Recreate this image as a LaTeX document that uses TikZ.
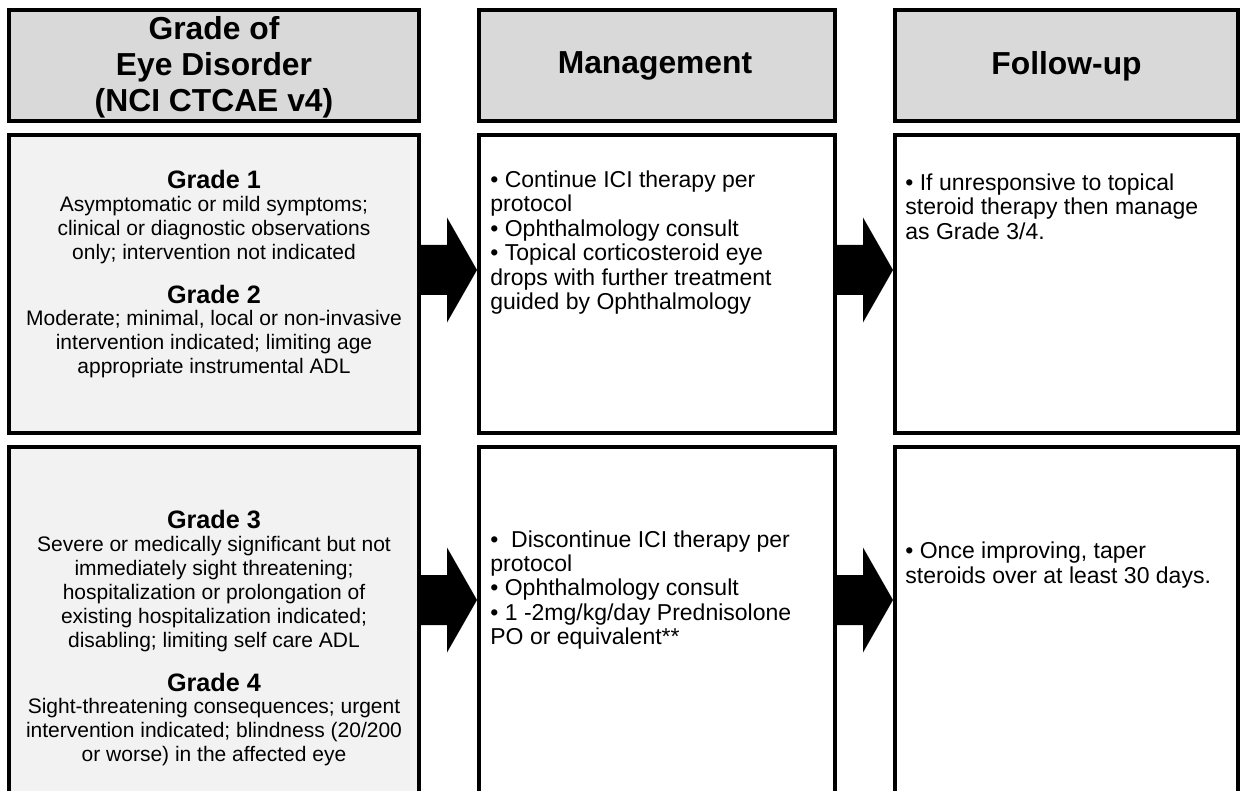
\documentclass[tikz,border=0pt]{standalone}
\usepackage{fontspec}
\setmainfont{Liberation Sans}
\usetikzlibrary{calc}
\definecolor{headgray}{HTML}{D9D9D9}
\definecolor{gradegray}{HTML}{F2F2F2}
% fat block arrow from the east side of #1 to the west side of #2, at the level of coordinate #3
\newcommand{\blockarrow}[3]{%
  \fill[black] ($(#1.east |- #3)+(0,-25)$) -- ($(#2.west |- #3)+(-30,-25)$) -- ++(0,-27.5)
    -- (#2.west |- #3) -- ++(-30,52.5) -- ++(0,-27.5) -- ($(#1.east |- #3)+(0,25)$) -- cycle;}
\begin{document}
\begin{tikzpicture}[x=0.5pt,y=-0.5pt,
  box/.style={draw=black, line width=2pt, inner sep=0pt},
  hdr/.style={font=\fontsize{15.9}{18}\selectfont\bfseries, align=center, inner sep=0pt},
  ghead/.style={font=\fontsize{12.6}{15}\selectfont\bfseries, inner sep=0pt},
  gtext/.style={font=\fontsize{10.5}{12}\selectfont, align=center, inner sep=0pt},
  mtext/.style={font=\fontsize{11.5}{12.2}\selectfont, align=left, inner sep=0pt, anchor=west}]
\useasboundingbox (0,0) rectangle (1242,791);
\clip (0,0) rectangle (1242,791);

% column headers
\node[box, fill=headgray, minimum width=205pt, minimum height=55.5pt] (hgrade) at (214,65.5) {};
\node[box, fill=headgray, minimum width=178pt, minimum height=55.5pt] (hmgmt) at (657,65.5) {};
\node[box, fill=headgray, minimum width=171.5pt, minimum height=55.5pt] (hfollow) at (1066.5,65.5) {};
\node[hdr] (thgrade) at (214,67) {Grade of\\Eye Disorder\\(NCI CTCAE v4)};
\node[hdr] (thmgmt) at (655,66) {Management};
\node[hdr] (thfollow) at (1066.5,66) {Follow-up};

% row for grades 1-2
\node[box, fill=gradegray, minimum width=205pt, minimum height=149pt] (g12) at (214,284) {};
\node[box, fill=white, minimum width=178pt, minimum height=149pt] (m12) at (657,284) {};
\node[box, fill=white, minimum width=171.5pt, minimum height=149pt] (f12) at (1066.5,284) {};

% row for grades 3-4
\node[box, fill=gradegray, minimum width=205pt, minimum height=186.5pt] (g34) at (214,633.5) {};
\node[box, fill=white, minimum width=178pt, minimum height=186.5pt] (m34) at (657,633.5) {};
\node[box, fill=white, minimum width=171.5pt, minimum height=186.5pt] (f34) at (1066.5,633.5) {};

% grade descriptions
\node[ghead] (gr1) at (214,179) {Grade 1};
\node[gtext] (gr1t) at (214,230.5) {Asymptomatic or mild symptoms;\\clinical or diagnostic observations\\only; intervention not indicated};
\node[ghead] (gr2) at (214,294) {Grade 2};
\node[gtext] (gr2t) at (214,344) {Moderate; minimal, local or non-invasive\\intervention indicated; limiting age\\appropriate instrumental ADL};
\node[ghead] (gr3) at (214,520) {Grade 3};
\node[gtext] (gr3t) at (214,594) {Severe or medically significant but not\\immediately sight threatening;\\hospitalization or prolongation of\\existing hospitalization indicated;\\disabling; limiting self care ADL};
\node[ghead] (gr4) at (214,682) {Grade 4};
\node[gtext] (gr4t) at (214,732) {Sight-threatening consequences; urgent\\intervention indicated; blindness (20/200\\or worse) in the affected eye};

% management
\node[mtext] (mt12) at (490,242.5) {\textbullet\ Continue ICI therapy per\\protocol\\\textbullet\ Ophthalmology consult\\\textbullet\ Topical corticosteroid eye\\drops with further treatment\\guided by Ophthalmology};
\node[mtext] (mt34) at (490,590) {\textbullet\ \ Discontinue ICI therapy per\\protocol\\\textbullet\ Ophthalmology consult\\\textbullet\ 1 -2mg/kg/day Prednisolone\\PO or equivalent**};

% follow-up
\node[mtext] (ft12) at (905,206.5) {\textbullet\ If unresponsive to topical\\steroid therapy then manage\\as Grade 3/4.};
\node[mtext] (ft34) at (905,565) {\textbullet\ Once improving, taper\\steroids over at least 30 days.};

% block arrows between columns
\coordinate (lev1) at (0,270);
\coordinate (lev2) at (0,600);
\blockarrow{g12}{m12}{lev1}
\blockarrow{m12}{f12}{lev1}
\blockarrow{g34}{m34}{lev2}
\blockarrow{m34}{f34}{lev2}
\end{tikzpicture}
\end{document}
